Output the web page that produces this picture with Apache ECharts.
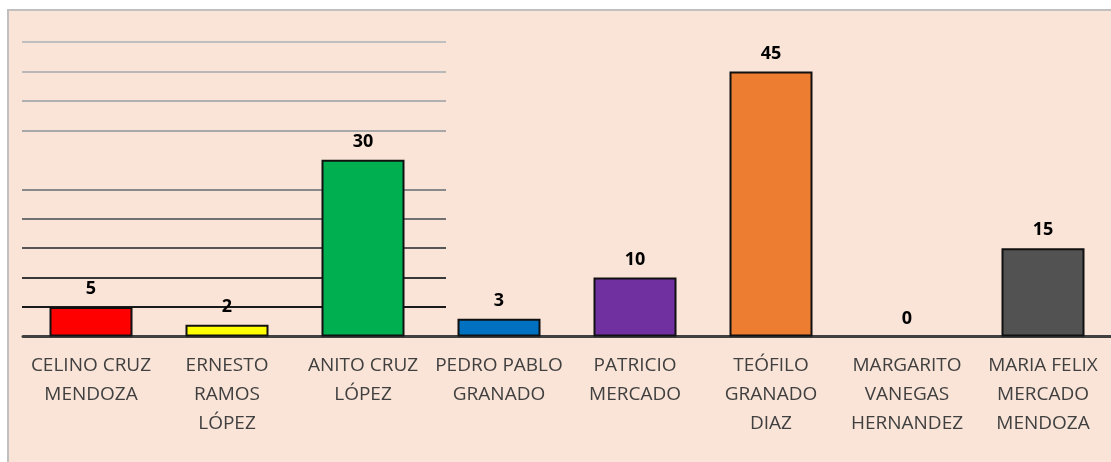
<!DOCTYPE html>
<html>
<head>
<meta charset="utf-8">
<script src="https://cdn.jsdelivr.net/npm/echarts@6/dist/echarts.min.js"></script>
<style>
html,body{margin:0;padding:0;background:#fff;}
#c{width:1111px;height:462px;}
</style>
</head>
<body>
<div id="c"></div>
<script>
const categories = [
  'CELINO CRUZ\nMENDOZA',
  'ERNESTO\nRAMOS\nLÓPEZ',
  'ANITO CRUZ\nLÓPEZ',
  'PEDRO PABLO\nGRANADO',
  'PATRICIO\nMERCADO',
  'TEÓFILO\nGRANADO\nDIAZ',
  'MARGARITO\nVANEGAS\nHERNANDEZ',
  'MARIA FELIX\nMERCADO\nMENDOZA'
];
const values = [5, 2, 30, 3, 10, 45, 0, 15];
const barColors = ['#FF0000', '#FFFF00', '#00B050', '#0070C0', '#7030A0', '#ED7D31', '#A5A5A5', '#525252'];
const gridLineColors = ['rgba(0,0,0,0)', '#1a1a1a', '#383838', '#555555', '#707070', '#8a8a8a', 'rgba(0,0,0,0)', '#a8a8a8', '#b0b0b0', '#b8b8b8', '#bfbfbf'];

const chart = echarts.init(document.getElementById('c'), null, {renderer: 'canvas'});
const font = 'Open Sans, Lato, sans-serif';
chart.setOption({
  animation: false,
  graphic: [{
    type: 'rect', z: -10, silent: true,
    shape: {x: 8, y: 10, width: 1120, height: 470},
    style: {fill: '#FAE4D7', stroke: '#c0c0c0', lineWidth: 2}
  }],
  grid: [
    {left: 23, width: 1092, top: 42, bottom: 125.5},
    {left: 22, width: 424, top: 42, bottom: 125.5}
  ],
  xAxis: [
    {
      type: 'category', gridIndex: 0, data: categories,
      axisLine: {show: true, lineStyle: {color: '#404040', width: 3}},
      axisTick: {show: false},
      axisLabel: {interval: 0, color: '#404040', fontFamily: font, fontSize: 19, lineHeight: 29, margin: 15}
    },
    {type: 'value', gridIndex: 1, min: 0, max: 1, show: false}
  ],
  yAxis: [
    {type: 'value', gridIndex: 0, min: 0, max: 50, interval: 5, show: false, splitLine: {show: false}},
    {
      type: 'value', gridIndex: 1, min: 0, max: 50, interval: 5,
      axisLine: {show: false}, axisTick: {show: false}, axisLabel: {show: false},
      splitLine: {show: true, lineStyle: {color: gridLineColors, width: 2.2}}
    }
  ],
  series: [{
    type: 'bar', xAxisIndex: 0, yAxisIndex: 0,
    data: values.map((v, i) => ({value: v, itemStyle: {color: barColors[i], borderWidth: v === 0 ? 0 : 2}})),
    barWidth: 83,
    itemStyle: {borderColor: '#111'},
    label: {show: true, position: 'top', distance: 9, color: '#000', fontWeight: 'bold', fontFamily: font, fontSize: 18}
  }]
});
</script>
</body>
</html>
